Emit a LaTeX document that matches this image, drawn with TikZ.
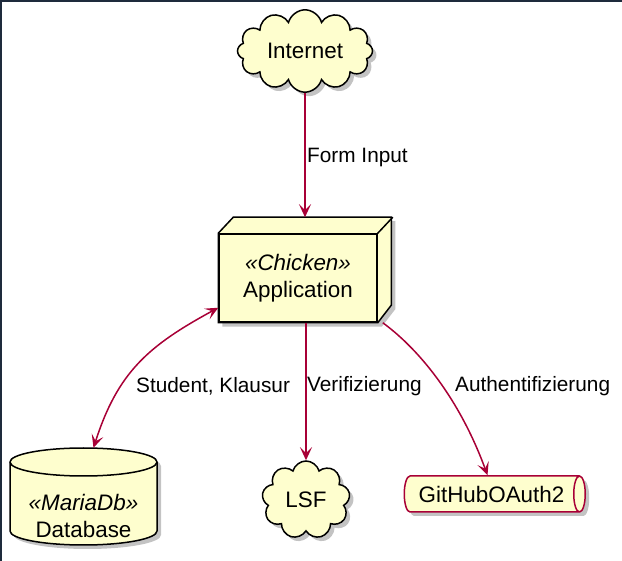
\documentclass[tikz,border=0pt]{standalone}
\usepackage{fontspec}
\setmainfont{Liberation Sans}
\usetikzlibrary{shapes.symbols,shapes.geometric,shadows,backgrounds,arrows.meta}

\begin{document}
\begin{tikzpicture}[x=1pt,y=-1pt,font=\fontsize{22.4}{27}\selectfont]
\definecolor{paper}{HTML}{FEFECE}\definecolor{wire}{HTML}{A80036}
\definecolor{frame}{HTML}{1E2B3C}\definecolor{dim}{HTML}{7A7A7A}
\tikzset{
  lift/.style={drop shadow={shadow xshift=4pt,shadow yshift=-4pt,fill=dim,opacity=.45}},
  cloudnode/.style={cloud,draw=black,fill=paper,line width=1.5pt,inner sep=0pt,lift},
  wirehead/.tip={Stealth[length=13pt,width=12pt,inset=6pt]},
  arrowline/.style={wire,line width=1.5pt},
  lbl/.style={inner sep=0pt,anchor=west,font=\fontsize{20.8}{25}\selectfont}
}
\useasboundingbox (0,0) rectangle (622,561);
\draw[frame,line width=4pt] (0,561) -- (0,0) -- (622,0);
% nodes
\node[cloudnode,cloud puffs=12,aspect=1.7,minimum width=135,minimum height=82] (inet) at (305,51) {Internet};
\node[draw=black,fill=paper,line width=1.5pt,minimum width=158,minimum height=88,align=center] (app) at (298,278) {\textit{«Chicken»}\\Application};
\coordinate (apptop) at ([shift={(15,-16)}]app.north west);
\begin{scope}[on background layer]
\filldraw[fill=paper,line width=1.5pt,lift] (app.north west) -- (apptop) -- ++(158,0) -- ++(0,88) -- (app.south east) -- (app.south west) -- cycle;
\end{scope}
\draw[line width=1.5pt] (app.north east) -- ++(15,-16);
\node[minimum width=147,minimum height=97,inner sep=0pt] (db) at (83.5,496.5) {};
\filldraw[fill=paper,line width=1.5pt,lift] (10,462) -- (10,531) arc[start angle=180,end angle=360,x radius=73.5pt,y radius=14pt] -- (157,462) arc[start angle=0,end angle=180,x radius=73.5pt,y radius=14pt] -- cycle;
\draw[line width=1.5pt] (10,462) arc[start angle=180,end angle=360,x radius=73.5pt,y radius=14pt];
\node[align=center] (dbtext) at (83.5,516) {\textit{«MariaDb»}\\Database};
\node[cloudnode,cloud puffs=9,aspect=1.1,minimum width=88,minimum height=78] (lsf) at (306,500) {LSF};
\node[cylinder,draw=wire,fill=paper,line width=1.5pt,shape aspect=.7,minimum width=36,minimum height=181,inner sep=0pt,lift] (gh) at (491.5,494) {GitHubOAuth2};
% connectors
\draw[arrowline,-wirehead] (inet) -- (inet |- apptop);
\draw[arrowline,-wirehead] (app.south -| lsf) -- (lsf);
\draw[arrowline,-wirehead] ([xshift=5pt]app.south east) .. controls (420,350) and (460,400) .. ([xshift=-4pt]gh.north);
\draw[arrowline,wirehead-wirehead] ([xshift=10pt]db.north) .. controls (117.8,372) and (148.6,345.6) .. ([yshift=15pt]app.south west);
% labels
\node[lbl] (forminput) at (307,158) {Form Input};
\node[lbl] (verif) at (307,386) {Verifizierung};
\node[lbl] (stud) at (136,386) {Student, Klausur};
\node[lbl] (auth) at (455,386) {Authentifizierung};
\end{tikzpicture}
\end{document}
